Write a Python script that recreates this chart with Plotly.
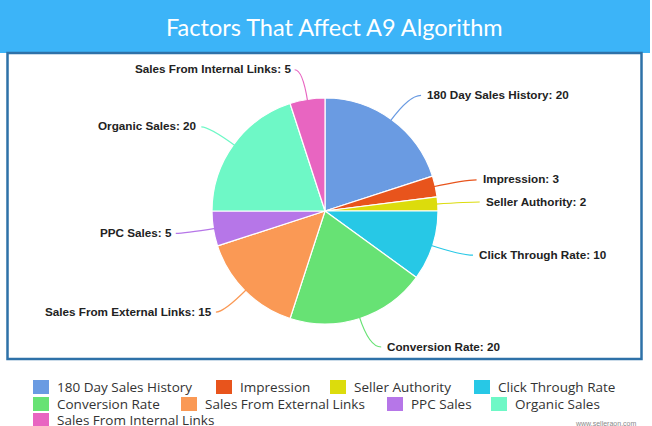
import math
import plotly.graph_objects as go

labels = ["180 Day Sales History", "Impression", "Seller Authority", "Click Through Rate",
          "Conversion Rate", "Sales From External Links", "PPC Sales", "Organic Sales",
          "Sales From Internal Links"]
values = [20, 3, 2, 10, 20, 15, 5, 20, 5]
colors = ["#6a9be2", "#e8541c", "#dcdc0c", "#27c8e6", "#67e274", "#fa9955",
          "#b676e8", "#6ef8c6", "#e865c1"]
title_text = "Factors That Affect A9 Algorithm"

W, H = 652, 426
CX, CY, R = 325, 211, 113

def px(x):
    return x / W

def py(y):
    return 1 - y / H

fig = go.Figure(go.Pie(
    labels=labels, values=values, sort=False, direction="clockwise", rotation=0,
    marker=dict(colors=colors, line=dict(color="white", width=1.2)),
    textinfo="none", hoverinfo="label+value", showlegend=False,
    domain=dict(x=[px(CX - R), px(CX + R)], y=[py(CY + R), py(CY - R)]),
))

annotations = []
shapes = []
# title bar and frame
shapes.append(dict(type="rect", xref="paper", yref="paper", x0=px(0), x1=px(650),
                   y0=py(53), y1=py(0), fillcolor="#3cb4f8", line=dict(width=0), layer="below"))
shapes.append(dict(type="rect", xref="paper", yref="paper", x0=px(7.5), x1=px(641.5),
                   y0=py(359), y1=py(53), fillcolor="rgba(0,0,0,0)",
                   line=dict(color="#2e71a8", width=2.5), layer="below"))

total = sum(values)
cum = 0
for lab, v, c in zip(labels, values, colors):
    mid = (cum + v / 2) / total * 2 * math.pi
    cum += v
    s, co = math.sin(mid), math.cos(mid)
    x0, y0 = CX + (R - 2) * s, CY - (R - 2) * co
    x1, y1 = CX + (R + 30) * s, CY - (R + 30) * co
    if s >= 0:
        x2, tx, anchor = x1 + 12, x1 + 16, "left"
    else:
        x2, tx, anchor = x1 - 8, x1 - 10, "right"
    y2 = y1
    path = (f"M {px(x0):.5f},{py(y0):.5f} Q {px(x1):.5f},{py(y1):.5f} "
            f"{px(x2):.5f},{py(y2):.5f}")
    shapes.append(dict(type="path", xref="paper", yref="paper", path=path,
                       line=dict(color=c, width=1.2)))
    annotations.append(dict(
        x=px(tx), y=py(y2 - 1), xref="paper", yref="paper",
        text=f"<b>{lab}: {v}</b>", showarrow=False,
        xanchor=anchor, yanchor="middle",
        font=dict(family="Liberation Sans, Arial", size=11.7, color="#222222")))

# legend (flow layout as in the reference)
legend_slots = [(33, 387), (216, 387), (330, 387), (474, 387),
                (33, 404), (181, 404), (387, 404), (491, 404), (33, 420)]
for lab, c, (lx, ly) in zip(labels, colors, legend_slots):
    shapes.append(dict(type="rect", xref="paper", yref="paper",
                       x0=px(lx), x1=px(lx + 16), y0=py(ly + 7), y1=py(ly - 7),
                       fillcolor=c, line=dict(width=0)))
    annotations.append(dict(x=px(lx + 22), y=py(ly), xref="paper", yref="paper",
                            text=lab, showarrow=False, xanchor="left", yanchor="middle",
                            font=dict(family="Open Sans", size=13.5, color="#333333")))

annotations.append(dict(x=px(334), y=py(27), xref="paper", yref="paper", text=title_text,
                        showarrow=False, xanchor="center", yanchor="middle",
                        font=dict(family="Lato", size=23.5, color="white")))
annotations.append(dict(x=px(638), y=py(423), xref="paper", yref="paper",
                        text="www.selleraon.com", showarrow=False, xanchor="right",
                        yanchor="middle", font=dict(family="Liberation Sans", size=7, color="#888")))

fig.update_layout(
    width=W, height=H, margin=dict(l=0, r=0, t=0, b=0, autoexpand=False),
    paper_bgcolor="white", plot_bgcolor="white",
    shapes=shapes, annotations=annotations,
    showlegend=False,
)

fig.write_html("out.html", config={"displayModeBar": False},
               post_script="document.body.style.margin='0';document.body.style.padding='0';")
